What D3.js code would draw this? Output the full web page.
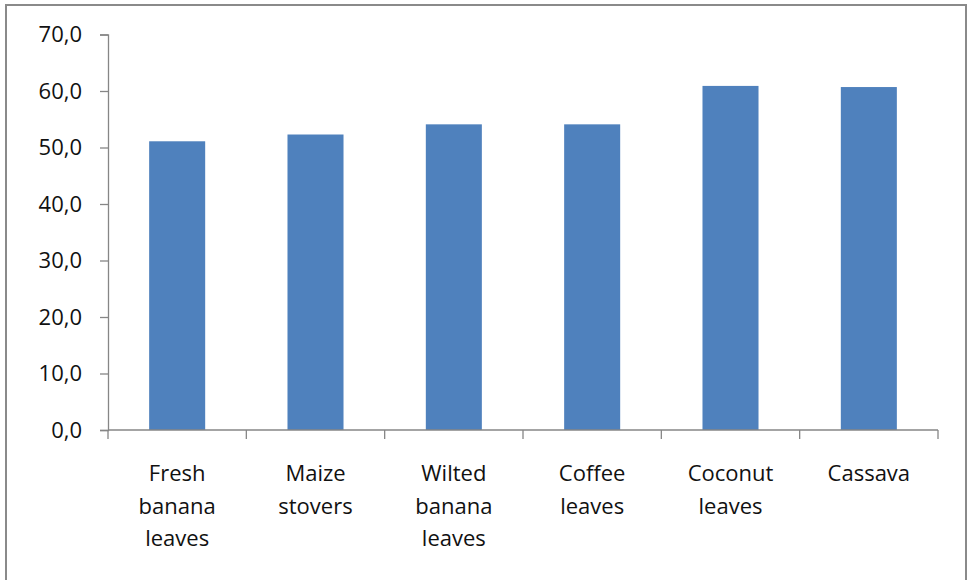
<!DOCTYPE html>
<html>
<head>
<meta charset="utf-8">
<script src="https://cdn.jsdelivr.net/npm/d3@7"></script>
<style>
  html, body { margin: 0; padding: 0; background: #fff; }
  svg { display: block; }
  text { font-family: "Open Sans", sans-serif; fill: #111; }
</style>
</head>
<body>
<svg id="chart" width="969" height="580"></svg>
<script>
const categories = ["Fresh banana leaves", "Maize stovers", "Wilted banana leaves", "Coffee leaves", "Coconut leaves", "Cassava"];
const values = [51.1, 52.3, 54.1, 54.1, 60.9, 60.7];
const yTicks = [0, 10, 20, 30, 40, 50, 60, 70];

const svg = d3.select("#chart");
const margin = { left: 108, right: 31, top: 34.5, bottom: 150 };
const W = 969, H = 580;
const axisColor = "#868686";

// outer frame
svg.append("rect")
  .attr("x", 6).attr("y", 5)
  .attr("width", 960).attr("height", 620)
  .attr("fill", "none").attr("stroke", "#8a8a8a").attr("stroke-width", 2);

const x = d3.scaleBand()
  .domain(categories)
  .range([margin.left, W - margin.right])
  .paddingInner(0).paddingOuter(0);

const y = d3.scaleLinear()
  .domain([0, 70])
  .range([H - margin.bottom, margin.top]);

const barW = x.bandwidth() * 0.405;

// bars
svg.append("g").selectAll("rect")
  .data(values)
  .join("rect")
  .attr("x", (d, i) => x(categories[i]) + (x.bandwidth() - barW) / 2)
  .attr("y", d => y(d))
  .attr("width", barW)
  .attr("height", d => y(0) - y(d))
  .attr("fill", "#4F81BD");

// y axis
const yAxis = svg.append("g")
  .attr("transform", `translate(${margin.left},0)`)
  .call(d3.axisLeft(y).tickValues(yTicks).tickSize(8).tickPadding(18)
    .tickFormat(d => d3.format(".1f")(d).replace(".", ",")));
yAxis.select(".domain").attr("stroke", axisColor).attr("stroke-width", 1.3);
yAxis.selectAll(".tick line").attr("stroke", axisColor).attr("stroke-width", 1.3);
yAxis.selectAll(".tick text")
  .attr("font-size", 22).attr("font-family", "'Open Sans', sans-serif").attr("fill", "#111");

// x axis: baseline with ticks at category boundaries
const xAxisG = svg.append("g");
xAxisG.append("line")
  .attr("x1", margin.left).attr("x2", W - margin.right)
  .attr("y1", y(0)).attr("y2", y(0))
  .attr("stroke", axisColor).attr("stroke-width", 1.3);
const bounds = categories.map(c => x(c)).concat([x(categories[categories.length - 1]) + x.bandwidth()]);
xAxisG.selectAll("line.tk")
  .data(bounds)
  .join("line")
  .attr("class", "tk")
  .attr("x1", d => d).attr("x2", d => d)
  .attr("y1", y(0)).attr("y2", y(0) + 9)
  .attr("stroke", axisColor).attr("stroke-width", 1.3);

// category labels, one word per line
const lab = svg.append("g").selectAll("text")
  .data(categories)
  .join("text")
  .attr("text-anchor", "middle")
  .attr("font-size", 22)
  .attr("x", d => x(d) + x.bandwidth() / 2)
  .attr("y", y(0) + 51);
lab.each(function(d) {
  const t = d3.select(this);
  const cx = x(d) + x.bandwidth() / 2;
  d.split(" ").forEach((w, i) => {
    t.append("tspan").attr("x", cx).attr("dy", i === 0 ? 0 : 32.5).text(w);
  });
});
</script>
</body>
</html>
